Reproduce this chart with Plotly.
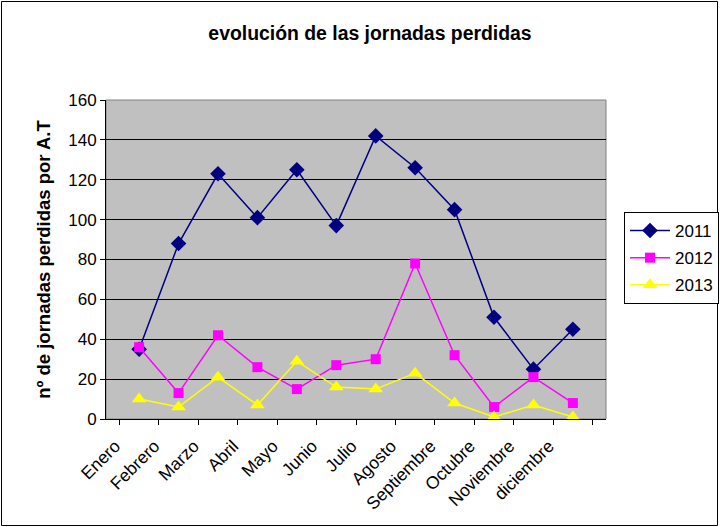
import plotly.graph_objects as go

months = ["Enero", "Febrero", "Marzo", "Abril", "Mayo", "Junio", "Julio",
          "Agosto", "Septiembre", "Octubre", "Noviembre", "diciembre"]
y2011 = [35, 88, 123, 101, 125, 97, 142, 126, 105, 51, 25, 45]
y2012 = [36, 13, 42, 26, 15, 27, 30, 78, 32, 6, 21, 8]
y2013 = [10, 6, 21, 7, 29, 16, 15, 23, 8, 1, 7, 1]

series = [
    ("2011", y2011, "#000080", "diamond", 12),
    ("2012", y2012, "#FF00FF", "square", 10),
    ("2013", y2013, "#FFFF00", "triangle-up", 13),
]

fig = go.Figure()
for name, vals, color, symbol, size in series:
    fig.add_trace(go.Scatter(
        x=months, y=vals, name=name, mode="lines+markers", legendgroup=name,
        line=dict(color=color, width=1.5),
        marker=dict(symbol=symbol, size=size, color=color),
        cliponaxis=False,
    ))

L, R, T, B = 106, 114, 100, 108
W, H = 720, 527
pw, ph = W - L - R, H - T - B

fig.update_layout(
    width=W, height=H,
    margin=dict(l=L, r=R, t=T, b=B, autoexpand=False),
    paper_bgcolor="white",
    plot_bgcolor="#C0C0C0",
    font=dict(family="Arial, Liberation Sans", size=17, color="black"),
    title=dict(text="<b>evolución de las jornadas perdidas</b>",
               x=370 / W, xanchor="center", y=1 - 33 / H, yanchor="middle",
               xref="paper" if False else "container",
               font=dict(size=19.4)),
    showlegend=True,
    legend=dict(x=(624 - L) / pw, xanchor="left", y=1 - (212 - T) / ph, yanchor="top",
                bordercolor="black", borderwidth=1, bgcolor="white",
                font=dict(size=17), itemwidth=40, tracegroupgap=2),
    xaxis=dict(
        tickangle=-45, tickson="boundaries", ticks="outside", ticklen=5,
        tickcolor="black", showline=True, linecolor="black", linewidth=1,
        showgrid=False, tickfont=dict(size=17.5), automargin=False,
        ticklabelshift=-24, ticklabelstandoff=9,
    ),
    yaxis=dict(
        range=[0, 160], dtick=20, ticks="outside", ticklen=5, tickcolor="black",
        showline=True, linecolor="black", linewidth=1,
        gridcolor="black", gridwidth=1, zeroline=False,
        tickfont=dict(size=17), automargin=False,
        title=dict(text="<b>nº de jornadas perdidas por A.T</b>", font=dict(size=18.5),
                   standoff=12),
    ),
    shapes=[
        dict(type="rect", xref="paper", yref="paper", x0=0, x1=1, y0=0, y1=1,
             line=dict(color="#808080", width=1), layer="below"),
        dict(type="rect", xref="paper", yref="paper",
             x0=-(L - 1.5) / pw, x1=(pw + R - 2.5) / pw,
             y0=-(B - 1.5) / ph, y1=1 + (T - 1.5) / ph,
             line=dict(color="black", width=1)),
    ],
)

fig.write_html("out.html", config={"displayModeBar": False},
               post_script="document.body.style.margin='0';document.body.style.overflow='hidden';")
